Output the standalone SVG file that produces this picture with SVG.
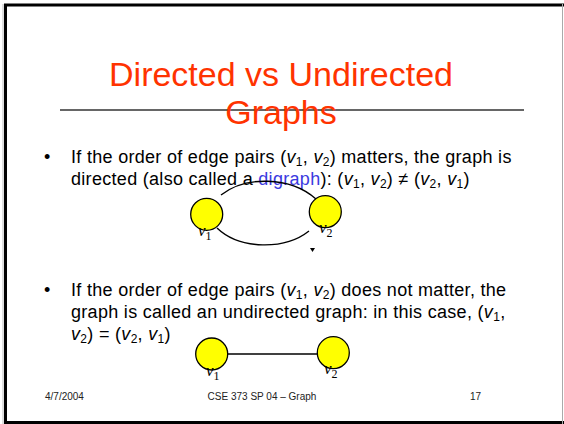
<svg xmlns="http://www.w3.org/2000/svg" width="564" height="424" viewBox="0 0 564 424">
<style>
.title{font-family:"Liberation Sans",Arial,sans-serif;font-size:34px;fill:#FF3300;text-anchor:middle}
.body{font-family:"Liberation Sans",Arial,sans-serif;font-size:18px;letter-spacing:0.3px;fill:#000}
.i{font-style:italic}
.sub{font-size:12px}
.foot{font-family:"Liberation Sans",Arial,sans-serif;font-size:10px;fill:#222}
.node{fill:#FFFF00;stroke:#000;stroke-width:1.3}
.lbl{font-family:"Liberation Serif","Times New Roman",serif;font-size:17px;fill:#000}
.lsub{font-size:12px}
.edge{fill:none;stroke:#000;stroke-width:1.4}
</style>
<rect x="0" y="0" width="564" height="424" fill="#fff"/>
<!-- frame -->
<line x1="4" y1="5" x2="564" y2="5" stroke="#000" stroke-width="3"/>
<line x1="5.5" y1="4" x2="5.5" y2="424" stroke="#000" stroke-width="3"/>
<line x1="4" y1="422.5" x2="564" y2="422.5" stroke="#000" stroke-width="3"/>
<line x1="562.5" y1="4" x2="562.5" y2="424" stroke="#aaa" stroke-width="1"/>
<line x1="3" y1="4" x2="3" y2="424" stroke="#bbb" stroke-width="1"/>

<text class="title" x="281" y="86">Directed vs Undirected</text>
<line x1="60" y1="110" x2="524" y2="110" stroke="#333" stroke-width="1.5"/>
<text class="title" x="281" y="124">Graphs</text>

<text class="body" x="44" y="163">•</text>
<text class="body" x="71" y="163">If the order of edge pairs (<tspan class="i">v</tspan><tspan class="sub" dy="3">1</tspan><tspan dy="-3">, </tspan><tspan class="i">v</tspan><tspan class="sub" dy="3">2</tspan><tspan dy="-3">) matters, the graph is</tspan></text>
<text class="body" x="71" y="185">directed (also called a <tspan fill="#3B3BE0">digraph</tspan>): (<tspan class="i">v</tspan><tspan class="sub" dy="3">1</tspan><tspan dy="-3">, </tspan><tspan class="i">v</tspan><tspan class="sub" dy="3">2</tspan><tspan dy="-3">) ≠ (</tspan><tspan class="i">v</tspan><tspan class="sub" dy="3">2</tspan><tspan dy="-3">, </tspan><tspan class="i">v</tspan><tspan class="sub" dy="3">1</tspan><tspan dy="-3">)</tspan></text>

<text class="body" x="44" y="296">•</text>
<text class="body" x="71" y="296">If the order of edge pairs (<tspan class="i">v</tspan><tspan class="sub" dy="3">1</tspan><tspan dy="-3">, </tspan><tspan class="i">v</tspan><tspan class="sub" dy="3">2</tspan><tspan dy="-3">) does not matter, the</tspan></text>
<text class="body" x="71" y="318">graph is called an undirected graph: in this case, (<tspan class="i">v</tspan><tspan class="sub" dy="3">1</tspan><tspan dy="-3">,</tspan></text>
<text class="body" x="71" y="340"><tspan class="i">v</tspan><tspan class="sub" dy="3">2</tspan><tspan dy="-3">) = (</tspan><tspan class="i">v</tspan><tspan class="sub" dy="3">2</tspan><tspan dy="-3">, </tspan><tspan class="i">v</tspan><tspan class="sub" dy="3">1</tspan><tspan dy="-3">)</tspan></text>

<g id="connectors">
<path class="edge" d="M221,195 C245,176 290,176 316,199"/>
<path class="edge" d="M217,228 C240,250 285,250 309,231"/>
<polygon points="214,220 220,220 217,214" fill="#000"/>
<polygon points="310,248 315,248 312.5,252" fill="#000"/>
<line class="edge" x1="228" y1="354" x2="317" y2="354"/>
</g>

<g id="g1-v1">
<circle class="node" cx="206.7" cy="214.3" r="16"/>
<text class="lbl" x="198" y="236"><tspan class="i">v</tspan><tspan class="lsub" dy="4">1</tspan></text>
</g>
<g id="g1-v2">
<circle class="node" cx="325.3" cy="211.7" r="16"/>
<text class="lbl" x="319" y="233"><tspan class="i">v</tspan><tspan class="lsub" dy="4">2</tspan></text>
</g>
<g id="g2-v1">
<circle class="node" cx="211.7" cy="354" r="16"/>
<text class="lbl" x="206" y="376"><tspan class="i">v</tspan><tspan class="lsub" dy="4">1</tspan></text>
</g>
<g id="g2-v2">
<circle class="node" cx="333.3" cy="352.7" r="16"/>
<text class="lbl" x="324" y="374"><tspan class="i">v</tspan><tspan class="lsub" dy="4">2</tspan></text>
</g>

<text class="foot" x="45" y="400">4/7/2004</text>
<text class="foot" x="262" y="400" text-anchor="middle">CSE 373 SP 04 – Graph</text>
<text class="foot" x="470" y="400">17</text>
</svg>
